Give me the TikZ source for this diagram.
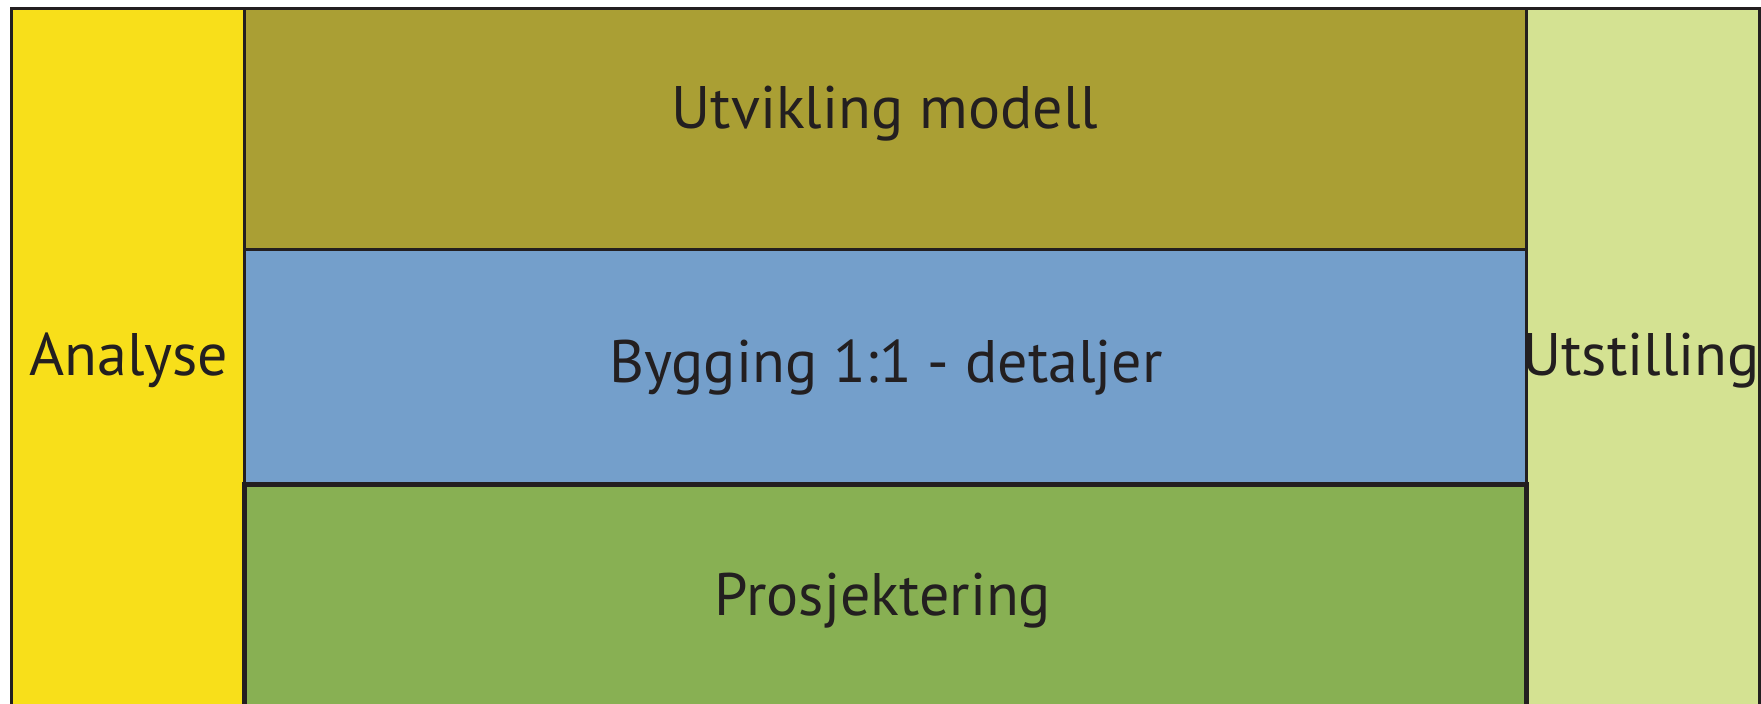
\documentclass[tikz,border=0pt]{standalone}
\usepackage{fontspec}
\setmainfont{PT Sans}
\definecolor{linec}{HTML}{231F20}
\definecolor{yel}{HTML}{F8DF1A}
\definecolor{olive}{HTML}{AA9F34}
\definecolor{blu}{HTML}{749FCB}
\definecolor{grn}{HTML}{88B053}
\definecolor{lgrn}{HTML}{D4E292}
\tikzset{
  panel/.style={draw=linec, line width=1.5pt},
  thickpanel/.style={draw=linec, line width=2.5pt},
  lbl/.style={anchor=base, inner sep=0pt, text=linec, font=\fontsize{30}{36}\selectfont},
}
\begin{document}
\begin{tikzpicture}[x=0.5pt,y=-0.5pt]
\useasboundingbox (0,0) rectangle (1761,704);
\clip (0,0) rectangle (1761,704);
\fill[white] (0,0) rectangle (1761,704);
% panels
\path[panel, fill=yel] (11.5,8.5) rectangle (244.5,760);
\path[panel, fill=olive] (244.5,8.5) rectangle (1526.5,250);
\path[panel, fill=blu] (244.5,250) rectangle (1526.5,485);
\path[panel, fill=lgrn] (1526.5,8.5) rectangle (1759.5,760);
\path[thickpanel, fill=grn] (244.5,485) rectangle (1526.5,760);
% labels
\node[lbl] (utv) at (885,129) {Utvikling modell};
\node[lbl] (byg) at (886,383) {Bygging 1:1 - detaljer};
\node[lbl] (pro) at (883,616) {Prosjektering};
\node[lbl] (ana) at (129,376) {Analyse};
\node[lbl] (uts) at (1641,376) {Utstilling};
\end{tikzpicture}
\end{document}
